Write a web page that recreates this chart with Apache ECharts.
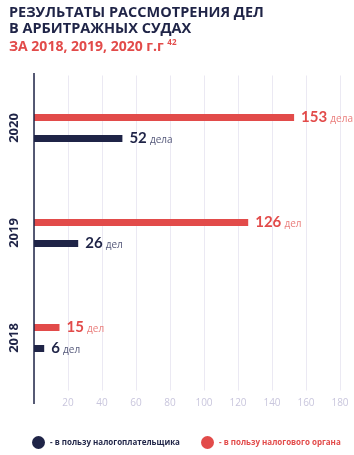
<!DOCTYPE html>
<html>
<head>
<meta charset="utf-8">
<script src="https://cdn.jsdelivr.net/npm/echarts@6/dist/echarts.min.js"></script>
<style>
  html, body { margin: 0; padding: 0; background: #fff; }
  #chart { width: 354px; height: 455px; }
</style>
</head>
<body>
<div id="chart"></div>
<script>
var years = ['2018', '2019', '2020'];
var taxpayer = [6, 26, 52];
var taxAuthority = [15, 126, 153];
var taxpayerUnits = ['дел', 'дел', 'дела'];
var authorityUnits = ['дел', 'дел', 'дела'];
var xTicks = [0, 20, 40, 60, 80, 100, 120, 140, 160, 180];

var navy = '#1f2447';
var red = '#e24b4a';
var font = '"Open Sans", sans-serif';
var numFont = 'Lato, sans-serif';

var chart = echarts.init(document.getElementById('chart'));

function unitLabel(units, style) {
    return {
        show: true,
        position: 'right',
        distance: 7,
        formatter: function (p) {
            return '{n|' + p.value + '} {u|' + units[p.dataIndex] + '}';
        },
        rich: style
    };
}

var option = {
    backgroundColor: '#fff',
    textStyle: { fontFamily: font },
    title: [{
        text: 'РЕЗУЛЬТАТЫ РАССМОТРЕНИЯ ДЕЛ\nВ АРБИТРАЖНЫХ СУДАХ',
        left: 4,
        top: 0,
        textStyle: { color: navy, fontSize: 14.5, fontWeight: 'bold', lineHeight: 16, fontFamily: font }
    }, {
        text: 'ЗА 2018, 2019, 2020 г.г {s|42}',
        left: 4,
        top: 34,
        textStyle: {
            color: red, fontSize: 14, fontWeight: 'bold', fontFamily: font,
            rich: { s: { fontSize: 8, fontWeight: 'bold', color: red, verticalAlign: 'top', padding: [0, 0, 8, 0] } }
        }
    }],
    legend: [{
        left: 27,
        top: 431,
        icon: 'circle',
        itemWidth: 13,
        itemHeight: 13,
        itemGap: 4,
        data: [{ name: 'taxpayer', textStyle: { color: navy } }],
        formatter: function () { return '- в пользу налогоплательщика'; },
        textStyle: { fontSize: 8, fontWeight: 'bold', fontFamily: font }
    }, {
        left: 196,
        top: 431,
        icon: 'circle',
        itemWidth: 13,
        itemHeight: 13,
        data: [{ name: 'authority', textStyle: { color: red } }],
        formatter: function () { return '- в пользу налогового органа'; },
        textStyle: { fontSize: 8, fontWeight: 'bold', fontFamily: font }
    }],
    grid: { left: 34, right: 14, top: 75.5, bottom: 64.5 },
    xAxis: {
        type: 'value',
        min: xTicks[0],
        max: xTicks[xTicks.length - 1],
        interval: 20,
        axisLine: { show: false },
        axisTick: { show: false },
        axisLabel: {
            margin: 8,
            color: '#c9c6dd',
            fontSize: 10,
            fontFamily: font,
            formatter: function (v) { return v === 0 ? '' : v; }
        },
        splitLine: { lineStyle: { color: '#ebe9f3', width: 1 } }
    },
    yAxis: {
        type: 'category',
        data: years,
        axisLine: { show: false },
        axisTick: { show: false },
        axisLabel: {
            rotate: 90,
            margin: 13,
            color: navy,
            fontSize: 13,
            fontWeight: 'bold',
            fontFamily: font
        }
    },
    graphic: [{
        type: 'line',
        shape: { x1: 34, y1: 73, x2: 34, y2: 404 },
        style: { stroke: navy, lineWidth: 1.5 },
        z: 10
    }],
    series: [{
        name: 'authority',
        type: 'bar',
        data: taxAuthority,
        barWidth: 7,
        barGap: '200%',
        itemStyle: { color: red },
        label: unitLabel(authorityUnits, {
            n: { fontSize: 15, fontWeight: 'bold', color: red, fontFamily: numFont },
            u: { fontSize: 10, color: '#ea7e7c', fontFamily: font, padding: [3, 0, 0, 0] }
        })
    }, {
        name: 'taxpayer',
        type: 'bar',
        data: taxpayer,
        barWidth: 7,
        itemStyle: { color: navy },
        label: unitLabel(taxpayerUnits, {
            n: { fontSize: 15, fontWeight: 'bold', color: navy, fontFamily: numFont },
            u: { fontSize: 10, color: '#55597a', fontFamily: font, padding: [3, 0, 0, 0] }
        })
    }]
};

chart.setOption(option);
</script>
</body>
</html>
